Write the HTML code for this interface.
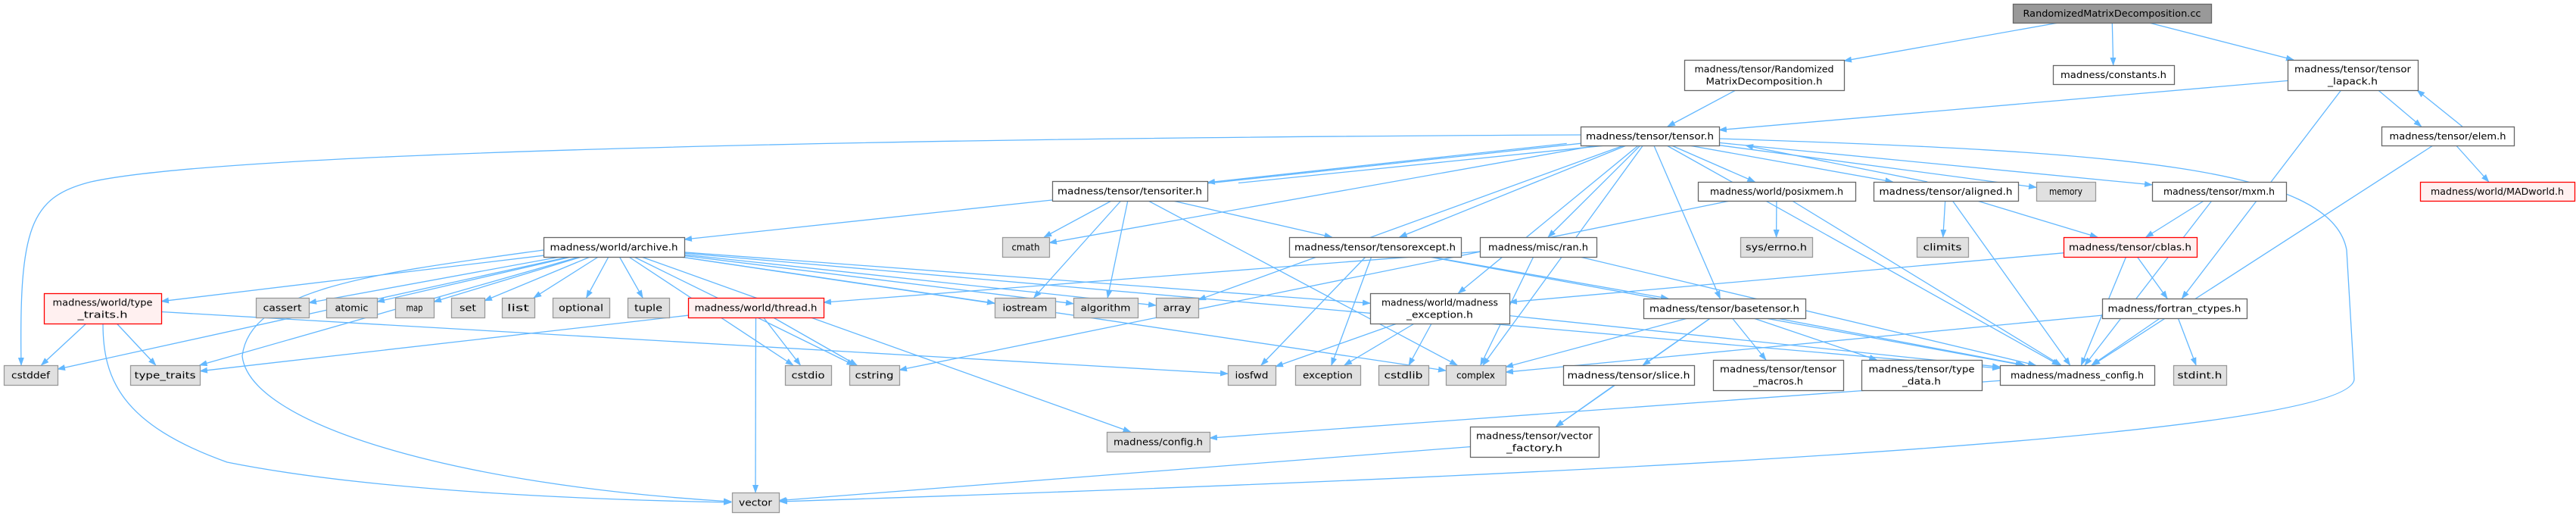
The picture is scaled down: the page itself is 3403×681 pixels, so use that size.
<!DOCTYPE html>
<html><head><meta charset="utf-8">
<style>
html,body{margin:0;padding:0;background:#fff;}
svg{display:block;}
text{font-family:"DejaVu Sans","Liberation Sans",sans-serif;font-size:12.5px;fill:#000;}
</style></head>
<body>
<svg id="g" width="3403" height="681" viewBox="0 0 3403 681" xmlns="http://www.w3.org/2000/svg">
<defs>
<marker id="a" markerWidth="11" markerHeight="8" refX="10" refY="4" orient="auto" markerUnits="userSpaceOnUse">
<path d="M0,0 L11,4 L0,8 z" fill="#63b8ff"/>
</marker>
</defs>
<g id="edges" fill="none" stroke="#63b8ff" stroke-width="1.3"></g>
<g id="nodes"></g>
</svg>
<script>
var N={
root:[2659,5,262,25,"RandomizedMatrixDecomposition.cc","r"],
rmd:[2225,79,211,40,"madness/tensor/Randomized|MatrixDecomposition.h"],
cons:[2712,86,160,25,"madness/constants.h"],
lapack:[3022,79,172,40,"madness/tensor/tensor|_lapack.h"],
tensor:[2088,167,183,25,"madness/tensor/tensor.h"],
elem:[3146,167,175,25,"madness/tensor/elem.h"],
posix:[2243,240,208,25,"madness/world/posixmem.h"],
aligned:[2475,240,191,25,"madness/tensor/aligned.h"],
memory:[2690,240,78,25,"memory","g"],
mxm:[2843,240,177,25,"madness/tensor/mxm.h"],
madworld:[3197,240,204,25,"madness/world/MADworld.h","red"],
titer:[1390,239,205,26,"madness/tensor/tensoriter.h"],
archive:[718,313,186,26,"madness/world/archive.h"],
cmath:[1324,313,62,26,"cmath","g"],
texc:[1703,313,227,26,"madness/tensor/tensorexcept.h"],
ran:[1955,313,154,26,"madness/misc/ran.h"],
errno:[2299,313,95,26,"sys/errno.h","g"],
climits:[2532,313,68,26,"climits","g"],
cblas:[2726,313,176,26,"madness/tensor/cblas.h","red"],
wtt:[58,387,155,40,"madness/world/type|_traits.h","red"],
cassert:[338,393,70,26,"cassert","g"],
atomic:[431,393,67,26,"atomic","g"],
map:[522,393,51,26,"map","g"],
set:[596,393,44,26,"set","g"],
list:[663,393,43,26,"list","g"],
optional:[730,393,75,26,"optional","g"],
tuple:[829,393,55,26,"tuple","g"],
thread:[909,393,179,26,"madness/world/thread.h","red"],
iostream:[1314,393,80,26,"iostream","g"],
algorithm:[1418,393,85,26,"algorithm","g"],
array:[1527,393,56,26,"array","g"],
mexc:[1810,387,184,40,"madness/world/madness|_exception.h"],
base:[2171,394,214,26,"madness/tensor/basetensor.h"],
fort:[2777,394,191,26,"madness/fortran_ctypes.h"],
cstddef:[5,482,71,26,"cstddef","g"],
tt:[172,482,92,26,"type_traits","g"],
cstdio:[1037,482,61,26,"cstdio","g"],
cstring:[1122,482,66,26,"cstring","g"],
iosfwd:[1622,482,63,26,"iosfwd","g"],
exception:[1711,482,86,26,"exception","g"],
cstdlib:[1821,482,66,26,"cstdlib","g"],
complex:[1910,482,79,26,"complex","g"],
slice:[2065,482,173,26,"madness/tensor/slice.h"],
macros:[2263,475,172,40,"madness/tensor/tensor|_macros.h"],
tdata:[2459,475,159,40,"madness/tensor/type|_data.h"],
mcfg:[2642,482,204,26,"madness/madness_config.h"],
stdint:[2871,482,70,26,"stdint.h","g"],
config:[1462,570,136,26,"madness/config.h","g"],
vfac:[1942,563,170,40,"madness/tensor/vector|_factory.h"],
vector:[967,650,62,26,"vector","g"]
};
var CUSTOM={
"tensor cstddef":"M2088,178 C1200,182 300,200 120,240 C40,260 25,300 28,482",
"tensor vector":"M2271,183 C2800,200 3080,220 3100,330 L3110,500 C3110,590 1700,640 1030,662",
"archive vector":"M718,330 C500,360 330,380 320,470 C330,560 600,640 966,662",
"wtt vector":"M136,427 C136,500 160,560 300,610 C500,650 800,660 966,663"
};
var E=[
"root rmd","root cons","root lapack","rmd tensor","lapack tensor","lapack fort","lapack elem",
"elem lapack","elem mcfg","elem madworld",
"tensor archive","tensor titer","tensor cmath","tensor cstddef","tensor complex","tensor vector","tensor memory",
"tensor posix","tensor aligned","tensor mxm","tensor texc","tensor ran","tensor base","tensor mcfg","tensor array","tensor mexc",
"aligned tensor","titer tensor",
"titer cmath","titer iostream","titer algorithm","titer texc","titer complex",
"texc iosfwd","texc exception","texc base","texc mcfg",
"archive wtt","archive cassert","archive atomic","archive map","archive set","archive list","archive optional","archive tuple",
"archive cstddef","archive tt","archive vector","archive cstdio","archive cstring","archive iostream","archive algorithm","archive array",
"archive mexc","archive config","archive complex","archive mcfg",
"ran thread","ran complex","ran mcfg",
"wtt cstddef","wtt tt","wtt vector","wtt iosfwd",
"thread tt","thread vector","thread cstdio","thread cstring",
"mexc cstdlib","mexc exception","mexc iosfwd","mexc mcfg",
"posix errno","posix mcfg","posix cstring",
"aligned climits","aligned cblas","aligned mcfg",
"mxm cblas","mxm mcfg",
"cblas fort","cblas mcfg","cblas mexc",
"fort complex","fort mcfg","fort stdint",
"base complex","base slice","base macros","base tdata","base mcfg","base vfac",
"slice vfac","vfac vector","mcfg config"
];
var NS="http://www.w3.org/2000/svg";
function clip(b,x1,y1,x2,y2){
 var dx=x2-x1,dy=y2-y1;
 var tx=dx!==0?(b[2]/2)/Math.abs(dx):1e9, ty=dy!==0?(b[3]/2)/Math.abs(dy):1e9;
 var t=Math.min(tx,ty); return [x1+dx*t,y1+dy*t];
}
var eg=document.getElementById('edges');
E.forEach(function(s){
 var p=s.split(' '),a=N[p[0]],b=N[p[1]];
 var l=document.createElementNS(NS,'path');
 if(CUSTOM[s]){l.setAttribute('d',CUSTOM[s]);}
 else{
 var ax=a[0]+a[2]/2,ay=a[1]+a[3]/2,bx=b[0]+b[2]/2,by=b[1]+b[3]/2;
 var back=(by<ay);
 if(back){ax+=a[2]*0.2;bx+=b[2]*0.35;} else if(p[0]=="tensor"&&(p[1]=="aligned"||p[1]=="titer")){ax-=a[2]*0.1;}
 if(p[0]=="lapack"&&p[1]=="elem"){ax+=10;bx-=20;}
 var s1=clip(a,ax,ay,bx,by),s2=clip(b,bx,by,ax,ay);
 l.setAttribute('d','M'+s1[0].toFixed(1)+','+s1[1].toFixed(1)+' L'+s2[0].toFixed(1)+','+s2[1].toFixed(1));
 }
 l.setAttribute('marker-end','url(#a)');
 eg.appendChild(l);
});
var ng=document.getElementById('nodes');
for(var k in N){var n=N[k];
 var r=document.createElementNS(NS,'rect');
 r.setAttribute('x',n[0]+0.5);r.setAttribute('y',n[1]+0.5);r.setAttribute('width',n[2]);r.setAttribute('height',n[3]);
 var fill='#fff',st='#666';
 if(n[5]=='g'){fill='#e0e0e0';st='#999';}
 if(n[5]=='r'){fill='#999';st='#666';}
 if(n[5]=='red'){fill='#fff0f0';st='#ff0000';}
 r.setAttribute('fill',fill);r.setAttribute('stroke',st);r.setAttribute('stroke-width','1.3');
 ng.appendChild(r);
 var lines=n[4].split('|');
 lines.forEach(function(t,i){
  var tx=document.createElementNS(NS,'text');
  tx.setAttribute('x',n[0]+n[2]/2);
  var cy=n[1]+n[3]/2+4.5+(lines.length==2?(i==0?-8:8):0);
  tx.setAttribute('y',cy);tx.setAttribute('text-anchor','middle');
  var tl=t.length*7.35; if(tl>n[2]-10) tl=n[2]-14;
  tx.setAttribute('textLength',tl.toFixed(0));tx.setAttribute('lengthAdjust','spacingAndGlyphs');
  tx.textContent=t; ng.appendChild(tx);
 });
}
</script>
</body></html>
